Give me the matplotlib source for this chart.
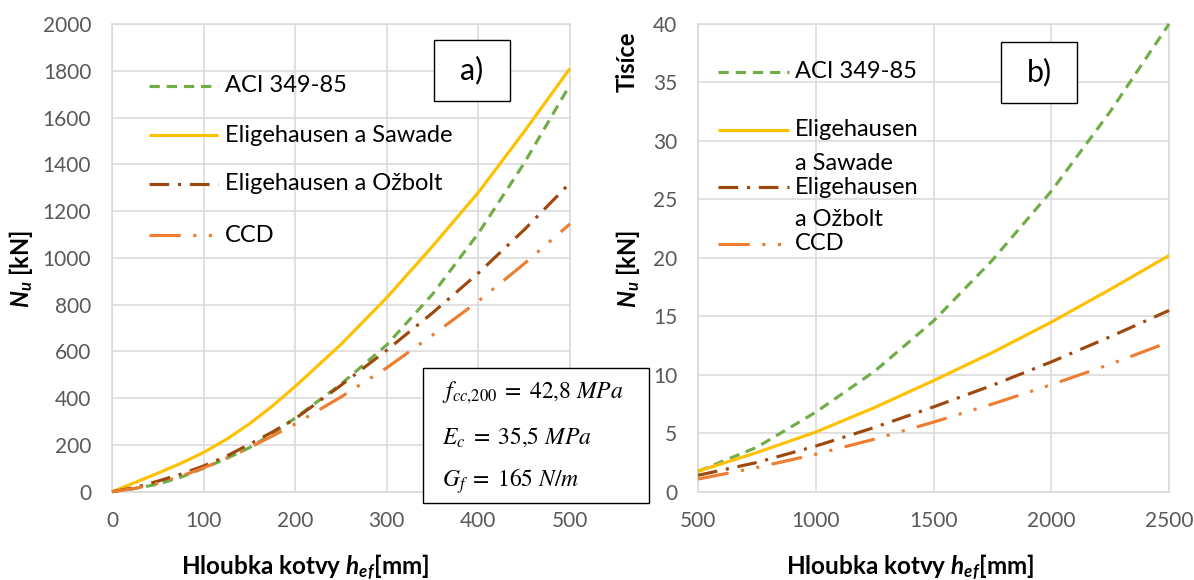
import matplotlib.pyplot as plt
from matplotlib.lines import Line2D
from matplotlib.patches import Rectangle

plt.rcParams['font.family'] = ['Lato', 'DejaVu Sans']
plt.rcParams['mathtext.fontset'] = 'custom'
plt.rcParams['mathtext.rm'] = 'Lato'
plt.rcParams['mathtext.it'] = 'Lato:italic'
plt.rcParams['mathtext.bf'] = 'Lato:bold'
plt.rcParams['mathtext.bfit'] = 'Lato:italic:bold'

# data
# a) embedment depth 0 - 500 mm, load in kN
h_a = [0, 25, 50, 75, 100, 125, 150, 175, 200, 250, 300, 350, 400, 450, 500]
aci_a = [0, 14, 32, 62, 100, 142, 188, 248, 315, 460, 628, 845, 1105, 1405, 1740]
saw_a = [0, 39, 79, 121, 168, 224, 290, 366, 450, 630, 830, 1050, 1280, 1540, 1810]
ozb_a = [0, 18, 45, 75, 110, 152, 203, 255, 312, 455, 605, 765, 935, 1120, 1320]
ccd_a = [0, 14, 36, 66, 102, 143, 188, 238, 290, 405, 530, 670, 815, 975, 1145]

# b) embedment depth 500 - 2500 mm, load in thousands of kN
h_b = [500, 750, 1000, 1250, 1500, 1750, 2000, 2250, 2500]
aci_b = [1.74, 3.8, 6.8, 10.3, 14.6, 19.8, 25.7, 32.5, 40.0]
saw_b = [1.75, 3.35, 5.1, 7.2, 9.5, 11.9, 14.5, 17.3, 20.2]
ozb_b = [1.4, 2.5, 3.9, 5.5, 7.25, 9.1, 11.1, 13.25, 15.5]
ccd_b = [1.08, 2.07, 3.2, 4.5, 5.95, 7.5, 9.15, 10.9, 12.8]

labels_a = ['ACI 349-85', 'Eligehausen a Sawade', 'Eligehausen a Ožbolt', 'CCD']
labels_b = [['ACI 349-85'], ['Eligehausen', 'a Sawade'], ['Eligehausen', 'a Ožbolt'], ['CCD']]

colors = ['#70AD47', '#FFC000', '#9E480E', '#ED7D31']
dashes = [(3.3, 2.2), None, (6.3, 2.8, 1.0, 2.8), (10.0, 4.0, 1.0, 4.0, 1.0, 4.0)]
LW = 2.25

W, H = 1194, 580
fig = plt.figure(figsize=(W / 100, H / 100), dpi=100)


def fx(x):
    return x / W


def fy(y):
    return 1 - y / H


ax_a = fig.add_axes([fx(112), fy(491.7), 458 / W, 467.7 / H])
ax_b = fig.add_axes([fx(698), fy(491.7), 471 / W, 467.7 / H])


def line_kw(i):
    kw = dict(color=colors[i], lw=LW, solid_capstyle='butt', dash_capstyle='butt',
              solid_joinstyle='round')
    if dashes[i] is not None:
        kw['dashes'] = dashes[i]
    return kw


for i, ys in enumerate([aci_a, saw_a, ozb_a, ccd_a]):
    ax_a.plot(h_a, ys, **line_kw(i), clip_on=False, zorder=3)
for i, ys in enumerate([aci_b, saw_b, ozb_b, ccd_b]):
    ax_b.plot(h_b, ys, **line_kw(i), clip_on=False, zorder=3)

ax_a.set_xlim(0, 500)
ax_a.set_ylim(0, 2000)
ax_a.set_xticks(range(0, 501, 100))
ax_a.set_yticks(range(0, 2001, 200))
ax_b.set_xlim(500, 2500)
ax_b.set_ylim(0, 40)
ax_b.set_xticks(range(500, 2501, 500))
ax_b.set_yticks(range(0, 41, 5))

for ax in (ax_a, ax_b):
    ax.grid(True, color='#D9D9D9', lw=1.1)
    ax.set_axisbelow(True)
    for s in ax.spines.values():
        s.set_color('#D9D9D9')
        s.set_linewidth(1.1)
    ax.tick_params(length=0, labelsize=15, labelcolor='#595959')
    ax.tick_params(axis='y', pad=15)
    ax.tick_params(axis='x', pad=14)

# axis titles
xlab = r'Hloubka kotvy $\mathbfit{h_{ef}}$[mm]'
ylab = r'$\mathbfit{N_u}$ [kN]'
for x in (305, 910):
    fig.text(fx(x), fy(567), xlab, ha='center', va='center', fontsize=17.5,
             fontweight='bold', math_fontfamily='custom')
for x in (21, 628):
    fig.text(fx(x), fy(269), ylab, ha='center', va='center', rotation=90,
             fontsize=17, fontweight='bold', math_fontfamily='custom')
fig.text(fx(627), fy(62), 'Tisíce', ha='center', va='center', rotation=90,
         fontsize=17, fontweight='bold')


def legend_entry(x0, x1, xt, ys, i, lines, step):
    fig.add_artist(Line2D([fx(x0), fx(x1)], [fy(ys), fy(ys)], **line_kw(i)))
    for k, t in enumerate(lines):
        fig.text(fx(xt), fy(ys + k * step), t, ha='left', va='center', fontsize=17)


for i, y in enumerate([86, 135, 184, 235]):
    legend_entry(148.5, 218, 225, y, i, [labels_a[i]], 0)
for i, y in enumerate([72, 130, 187, 244]):
    legend_entry(718, 789, 795, y, i, labels_b[i], 33)

# panel tags
for x0, y0, tag in [(434, 40, 'a)'), (1001, 42, 'b)')]:
    fig.add_artist(Rectangle((fx(x0), fy(y0 + 61)), 76 / W, 61 / H, transform=fig.transFigure,
                             facecolor='white', edgecolor='black', lw=1.0))
    fig.text(fx(x0 + 38), fy(y0 + 30), tag, ha='center', va='center', fontsize=22)

# material parameters box
fig.add_artist(Rectangle((fx(423), fy(503)), 226 / W, 135 / H, transform=fig.transFigure,
                         facecolor='white', edgecolor='black', lw=1.0, zorder=4))
eqs = [r'$f_{cc{,}200}\;=\;42{,}8\ MPa$', r'$E_c\;=\;35{,}5\ MPa$', r'$G_f\;=\;165\ N/m$']
for k, e in enumerate(eqs):
    fig.text(fx(442), fy(393 + 44 * k), e, ha='left', va='center', fontsize=17,
             math_fontfamily='stix', zorder=5)

fig.savefig('out.png', dpi=100)
